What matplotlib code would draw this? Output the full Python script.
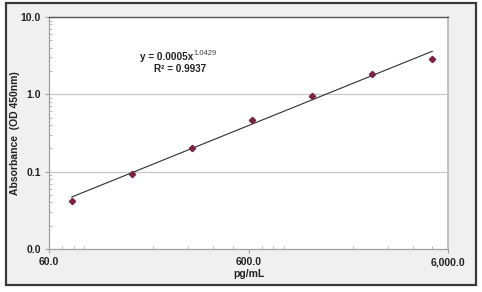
import numpy as np
import matplotlib
matplotlib.use('Agg')
import matplotlib.pyplot as plt
from matplotlib.patches import Rectangle
from matplotlib.ticker import FuncFormatter, LogLocator, NullFormatter

# Standard curve data (pg/mL vs OD 450nm)
conc = [78.1, 156.3, 312.5, 625, 1250, 2500, 5000]
absorb = [0.042, 0.092, 0.204, 0.46, 0.96, 1.81, 2.89]

# Power trendline reported on the chart
coef_a = 0.0005
coef_b = 1.0429
r2 = 0.9937

x_ticks = [60, 600, 6000]
y_ticks = [0.01, 0.1, 1, 10]

plt.rcParams['font.family'] = ['Liberation Sans', 'DejaVu Sans']
plt.rcParams['font.weight'] = 'bold'

fig = plt.figure(figsize=(4.82, 2.92), dpi=100)
fig.patch.set_facecolor('white')
fig.patches.append(Rectangle((0.0124, 0.024), 0.9752, 0.9657, transform=fig.transFigure,
                             facecolor='#f0f0f0', edgecolor='#3a3a3a', lw=1.6, zorder=-5))

ax = fig.add_axes([0.1017, 0.1473, 0.8278, 0.7945])
ax.set_facecolor('white')
ax.set_xscale('log')
ax.set_yscale('log')
ax.set_xlim(60, 6000)
ax.set_ylim(0.01, 10)

# gridlines at decade values
for yv in y_ticks[1:-1]:
    ax.axhline(yv, color='#c8c8c8', lw=0.9, zorder=1)

# trendline
xs = np.geomspace(conc[0], conc[-1], 50)
ax.plot(xs, coef_a * xs ** coef_b, color='#2e2e2e', lw=0.8, zorder=2)

ax.plot(conc, absorb, linestyle='', marker='D', markersize=3.2,
        color='#7a2342', zorder=3)

ax.set_xticks(x_ticks)
ax.set_yticks(y_ticks)
ax.xaxis.set_major_formatter(FuncFormatter(lambda v, p: '{:,.1f}'.format(v)))
ax.yaxis.set_major_formatter(FuncFormatter(lambda v, p: '{:.1f}'.format(v)))
ax.xaxis.set_minor_locator(LogLocator(base=10, subs=np.arange(2, 10)))
ax.yaxis.set_minor_locator(LogLocator(base=10, subs=np.arange(2, 10)))
ax.xaxis.set_minor_formatter(NullFormatter())
ax.yaxis.set_minor_formatter(NullFormatter())
ax.tick_params(axis='both', which='major', labelsize=7.5, length=3, width=0.8,
               color='#a0a0a0', labelcolor='#222222', direction='out', pad=3)
ax.tick_params(axis='both', which='minor', length=2.5, width=0.6,
               color='#b0b0b0', direction='in')
for lbl in ax.get_xticklabels() + ax.get_yticklabels():
    lbl.set_fontweight('bold')

for side in ['left', 'bottom']:
    ax.spines[side].set_color('#a0a0a0')
    ax.spines[side].set_linewidth(0.9)
ax.spines['top'].set_color('#555555')
ax.spines['top'].set_linewidth(1.0)
ax.spines['right'].set_color('#b8b8b8')
ax.spines['right'].set_linewidth(1.2)

ax.set_xlabel('pg/mL', fontsize=7.5, fontweight='bold', color='#222222', labelpad=1)
ax.set_ylabel('Absorbance  (OD 450nm)', fontsize=7.5, fontweight='bold', color='#222222')
ax.yaxis.set_label_coords(-0.072, 0.5)

ax.text(0.361, 0.828, 'y = 0.0005x', transform=ax.transAxes, ha='right', va='center',
        fontsize=7.2, fontweight='bold', color='#222222')
ax.text(0.362, 0.842, '{:.4f}'.format(coef_b), transform=ax.transAxes, ha='left', va='center',
        fontsize=5.5, fontweight='normal', color='#444444')
ax.text(0.328, 0.776, 'R\u00b2 = {:.4f}'.format(r2), transform=ax.transAxes, ha='center',
        va='center', fontsize=7.2, fontweight='bold', color='#222222')

fig.savefig('out.png', dpi=100)
